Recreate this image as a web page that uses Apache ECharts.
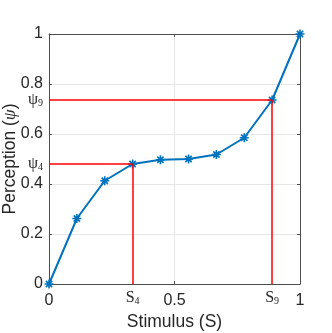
<!DOCTYPE html>
<html><head><meta charset="utf-8">
<script src="https://cdn.jsdelivr.net/npm/echarts@6/dist/echarts.min.js"></script>
<style>html,body{margin:0;padding:0;background:#fff}#c{width:332px;height:333px}</style>
</head><body><div id="c"></div>
<script>
// Data
var stimulus = [0, 0.111, 0.222, 0.333, 0.444, 0.556, 0.667, 0.778, 0.889, 1];
var perception = [0, 0.262, 0.413, 0.48, 0.497, 0.5, 0.518, 0.585, 0.736, 1];
var markedIdx = [3, 8];              // S4 and S9 (points 4 and 9)
var markedNames = ['4', '9'];
var yTicks = [0, 0.2, 0.4, 0.6, 0.8, 1];
var xTicks = [0, 0.5, 1];

var chart = echarts.init(document.getElementById('c'), null, {renderer: 'canvas'});
var blue = '#0072BD', red = '#FF0000', axisCol = '#4d4d4d';
var tickFont = 'Liberation Sans, Arial, Helvetica, sans-serif';
var serif = 'Liberation Serif, Times New Roman, serif';

var richSub = {
  p: {fontFamily: serif, fontSize: 16, color: '#262626', lineHeight: 16},
  s: {fontFamily: serif, fontSize: 10, color: '#262626', verticalAlign: 'bottom', lineHeight: 10}
};

var pts = stimulus.map(function (x, i) { return [x, perception[i]]; });
var mlData = [];
markedIdx.forEach(function (k, j) {
  var sx = stimulus[k], py = perception[k], n = markedNames[j];
  mlData.push([{coord: [0, py], label: {formatter: '{p|ψ}{s|' + n + '}', position: 'start', distance: 6, rich: richSub}}, {coord: [sx, py]}]);
  mlData.push([{coord: [sx, 0], label: {formatter: '{p|S}{s|' + n + '}', position: 'start', distance: 6, rich: richSub}}, {coord: [sx, py]}]);
});

var asterisk = 'path://M0,-5L0,5M-5,0L5,0M-3.5,-3.5L3.5,3.5M-3.5,3.5L3.5,-3.5';

var axisCommon = {
  min: 0, max: 1,
  axisLine: {show: true, onZero: false, lineStyle: {color: axisCol, width: 1}},
  axisTick: {show: true, inside: true, length: 3, lineStyle: {color: axisCol}},
  splitLine: {show: false}
};

chart.setOption({
  animation: false,
  backgroundColor: '#fff',
  grid: {left: 49, right: 32, top: 34, bottom: 49, containLabel: false, outerBoundsMode: 'none'},
  xAxis: [
    Object.assign({}, axisCommon, {
      type: 'value', position: 'bottom', interval: 0.5,
      name: 'Stimulus (S)', nameLocation: 'middle', nameGap: 29, nameMoveOverlap: false,
      nameTextStyle: {fontFamily: tickFont, fontSize: 17.5, color: '#262626'},
      axisLabel: {show: true, margin: 9, fontFamily: tickFont, fontSize: 16, color: '#262626',
        formatter: function (v) { return String(v); }},
      splitLine: {show: true, lineStyle: {color: '#e6e6e6', width: 1}}
    }),
    Object.assign({}, axisCommon, {type: 'value', position: 'top', interval: 0.5, axisLabel: {show: false}})
  ],
  yAxis: [
    Object.assign({}, axisCommon, {
      type: 'value', position: 'left', interval: 0.2,
      name: 'Perception ({i|ψ})', nameLocation: 'middle', nameGap: 30, nameMoveOverlap: false,
      nameTextStyle: {fontFamily: tickFont, fontSize: 17.5, color: '#262626',
        rich: {i: {fontFamily: serif, fontStyle: 'italic', fontSize: 17.5, color: '#262626'}}},
      axisLabel: {show: true, margin: 6, fontFamily: tickFont, fontSize: 16, color: '#262626',
        formatter: function (v) { return String(+v.toFixed(1)); }},
      splitLine: {show: true, lineStyle: {color: '#e6e6e6', width: 1}}
    }),
    Object.assign({}, axisCommon, {type: 'value', position: 'right', interval: 0.2, axisLabel: {show: false}})
  ],
  series: [
    {
      type: 'line', data: [], z: 1, silent: true,
      markLine: {
        silent: true, symbol: ['none', 'none'], animation: false,
        lineStyle: {color: red, width: 1.5, type: 'solid'},
        emphasis: {disabled: true},
        data: mlData
      }
    },
    {
      type: 'line', data: pts, z: 3, silent: true,
      lineStyle: {color: blue, width: 2},
      symbol: asterisk, symbolSize: 9,
      itemStyle: {color: blue, borderColor: blue, borderWidth: 1.6},
      emphasis: {disabled: true}
    }
  ]
});
</script>
</body></html>
